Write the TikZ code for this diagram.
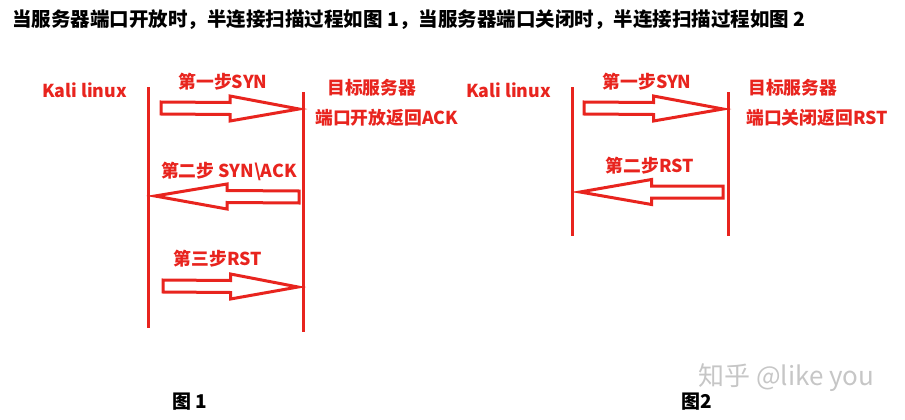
\documentclass[tikz,border=0pt]{standalone}
\usepackage{fontspec}
\setmainfont{Noto Sans CJK SC}
\usepackage{tikz}
\usetikzlibrary{calc}
\definecolor{kred}{RGB}{232,36,30}

% hollow block arrow from tail coordinate #1 to tip coordinate #2
\newcommand{\blockarrow}[2]{%
  \draw[blockarrow] ($(#1)+(0,-6)$) -- ($(#1)!0.5!(#2)+(0,-6)$)
    -- ($(#1)!0.5!(#2)+(0,-12.5)$) -- (#2)
    -- ($(#1)!0.5!(#2)+(0,12.5)$) -- ($(#1)!0.5!(#2)+(0,6)$)
    -- ($(#1)+(0,6)$) -- cycle;}

\begin{document}
\begin{tikzpicture}[x=1pt,y=-1pt,
    lifeline/.style={draw=kred,line width=3pt},
    blockarrow/.style={draw=kred,fill=white,line width=3pt,line join=miter},
    steplabel/.style={text=kred,font=\bfseries\fontsize{17.8}{20}\selectfont,inner sep=0pt},
    hostlabel/.style={steplabel,anchor=west},
    caption/.style={font=\bfseries\fontsize{19}{21}\selectfont,inner sep=0pt}
  ]
    \useasboundingbox (0,0) rectangle (905,420);

    % Title
    \node[font=\bfseries\fontsize{19.5}{22}\selectfont,anchor=west,inner sep=0pt] (title) at (12,20)
      {当服务器端口开放时，半连接扫描过程如图 1，当服务器端口关闭时，半连接扫描过程如图 2};

    % Figure 1: port open
    \node[hostlabel] (kali1) at (42,90) {Kali linux};
    \node[hostlabel] (srv1) at (327,88) {目标服务器};
    \node[hostlabel] (res1) at (315,118) {端口开放返回ACK};
    \coordinate (k1t) at (148,87);
    \coordinate (k1b) at (148,328);
    \coordinate (s1t) at (303,92);
    \coordinate (s1b) at (303,332);
    \draw[lifeline] (k1t) -- (k1b);
    \draw[lifeline] (s1t) -- (s1b);

    \coordinate (a1a) at (161,108);
    \coordinate (a1b) at (299,109);
    \blockarrow{a1a}{a1b}
    \node[steplabel] (l1a) at (223,82) {第一步SYN};

    \coordinate (a2a) at (299,197);
    \coordinate (a2b) at (155,196);
    \blockarrow{a2a}{a2b}
    \node[steplabel] (l2a) at (229,171) {第二步 SYN\textbackslash ACK};

    \coordinate (a3a) at (163,286);
    \coordinate (a3b) at (298,287);
    \blockarrow{a3a}{a3b}
    \node[steplabel] (l3a) at (218,259) {第三步RST};

    \node[caption] (fig1) at (190,402) {图 1};

    % Figure 2: port closed
    \node[hostlabel] (kali2) at (466,90) {Kali linux};
    \node[hostlabel] (srv2) at (748,88) {目标服务器};
    \node[hostlabel] (res2) at (746,118) {端口关闭返回RST};
    \coordinate (k2t) at (572,87);
    \coordinate (k2b) at (572,236);
    \coordinate (s2t) at (728,92);
    \coordinate (s2b) at (728,236);
    \draw[lifeline] (k2t) -- (k2b);
    \draw[lifeline] (s2t) -- (s2b);

    \coordinate (b1a) at (584,108);
    \coordinate (b1b) at (723,109);
    \blockarrow{b1a}{b1b}
    \node[steplabel] (l1b) at (647,82) {第一步SYN};

    \coordinate (b2a) at (723,192);
    \coordinate (b2b) at (580,192);
    \blockarrow{b2a}{b2b}
    \node[steplabel] (l2b) at (650,166) {第二步RST};

    \node[caption] (fig2) at (697,402) {图2};

    % watermark
    \node[anchor=west,inner sep=0pt,text=gray!45,font=\fontsize{26}{28}\selectfont] (mark) at (698,378) {知乎 @like you};
  \end{tikzpicture}
\end{document}
